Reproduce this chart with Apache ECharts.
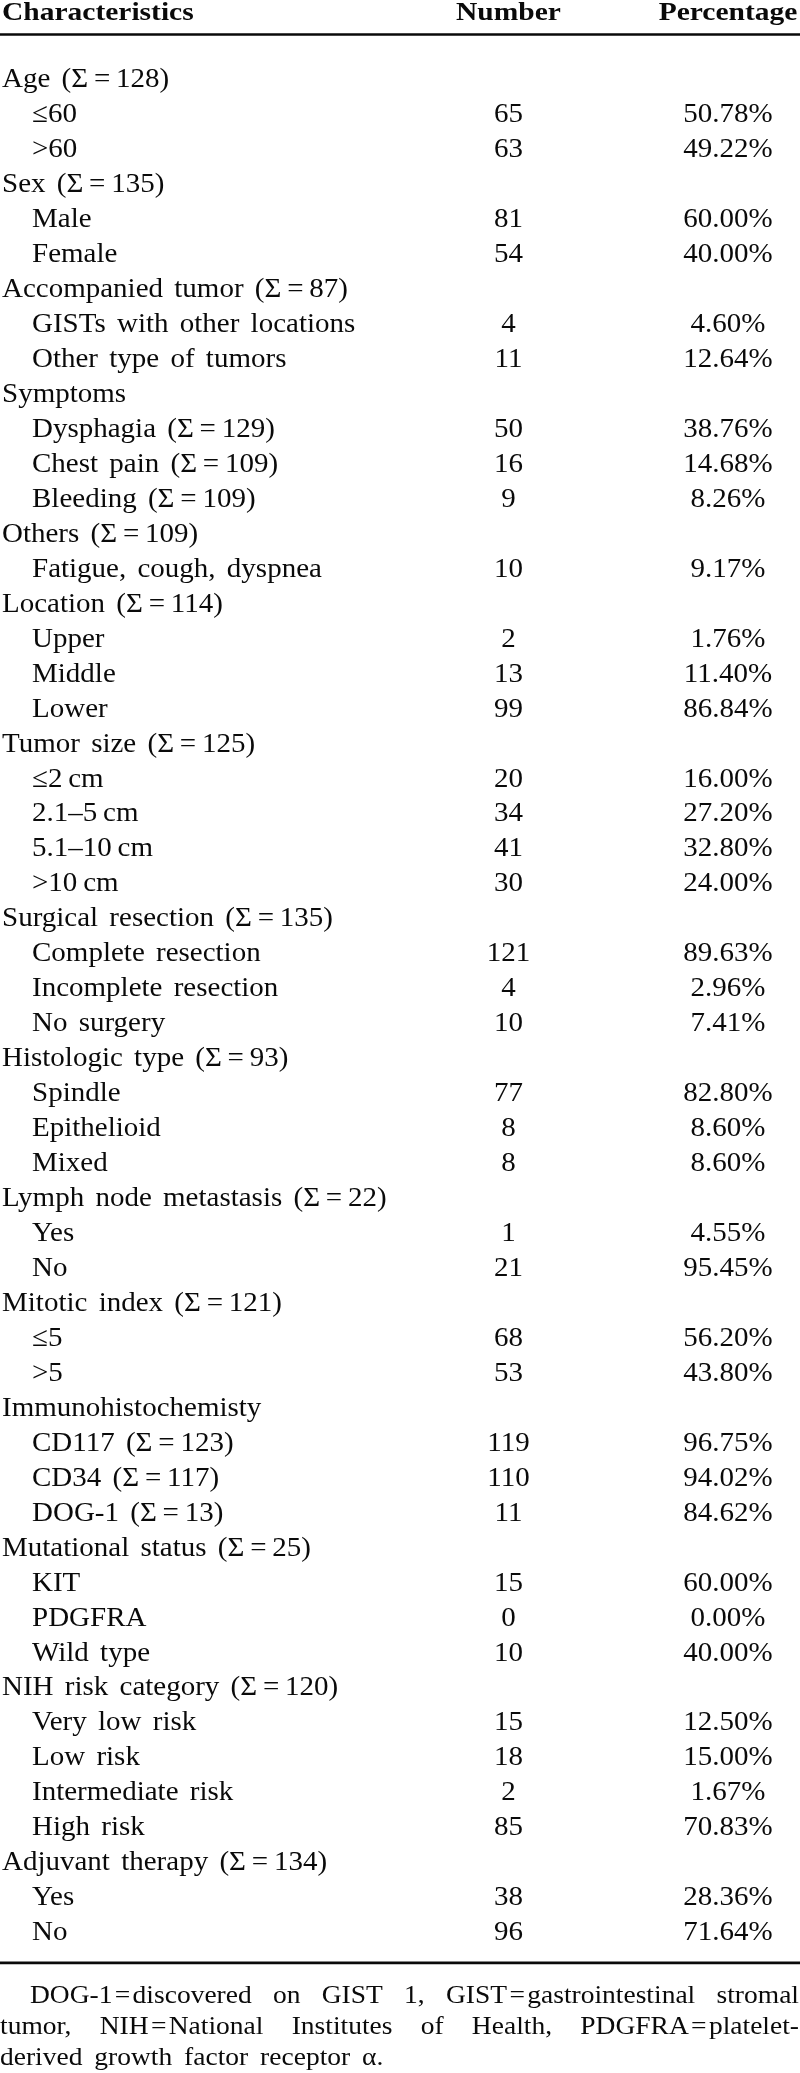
<!DOCTYPE html>
<html>
<head>
<meta charset="utf-8">
<script src="https://cdn.jsdelivr.net/npm/echarts@6/dist/echarts.min.js"></script>
<style>
html, body { margin: 0; padding: 0; background: #ffffff; }
#chart { width: 800px; height: 2073px; }
</style>
</head>
<body>
<div id="chart"></div>
<script>
// ---------------- DATA ----------------
const columnHeaders = ["Characteristics", "Number", "Percentage"];

const characteristics = [
  "Age (Σ\u2009=\u2009128)", "≤60", ">60",
  "Sex (Σ\u2009=\u2009135)", "Male", "Female",
  "Accompanied tumor (Σ\u2009=\u200987)", "GISTs with other locations", "Other type of tumors",
  "Symptoms", "Dysphagia (Σ\u2009=\u2009129)", "Chest pain (Σ\u2009=\u2009109)", "Bleeding (Σ\u2009=\u2009109)",
  "Others (Σ\u2009=\u2009109)", "Fatigue, cough, dyspnea",
  "Location (Σ\u2009=\u2009114)", "Upper", "Middle", "Lower",
  "Tumor size (Σ\u2009=\u2009125)", "≤2\u2009cm", "2.1–5\u2009cm", "5.1–10\u2009cm", ">10\u2009cm",
  "Surgical resection (Σ\u2009=\u2009135)", "Complete resection", "Incomplete resection", "No surgery",
  "Histologic type (Σ\u2009=\u200993)", "Spindle", "Epithelioid", "Mixed",
  "Lymph node metastasis (Σ\u2009=\u200922)", "Yes", "No",
  "Mitotic index (Σ\u2009=\u2009121)", "≤5", ">5",
  "Immunohistochemisty", "CD117 (Σ\u2009=\u2009123)", "CD34 (Σ\u2009=\u2009117)", "DOG-1 (Σ\u2009=\u200913)",
  "Mutational status (Σ\u2009=\u200925)", "KIT", "PDGFRA", "Wild type",
  "NIH risk category (Σ\u2009=\u2009120)", "Very low risk", "Low risk", "Intermediate risk", "High risk",
  "Adjuvant therapy (Σ\u2009=\u2009134)", "Yes", "No"
];

const numbers = [
  null, 65, 63,
  null, 81, 54,
  null, 4, 11,
  null, 50, 16, 9,
  null, 10,
  null, 2, 13, 99,
  null, 20, 34, 41, 30,
  null, 121, 4, 10,
  null, 77, 8, 8,
  null, 1, 21,
  null, 68, 53,
  null, 119, 110, 11,
  null, 15, 0, 10,
  null, 15, 18, 2, 85,
  null, 38, 96
];

const percentages = [
  null, 50.78, 49.22,
  null, 60.00, 40.00,
  null, 4.60, 12.64,
  null, 38.76, 14.68, 8.26,
  null, 9.17,
  null, 1.76, 11.40, 86.84,
  null, 16.00, 27.20, 32.80, 24.00,
  null, 89.63, 2.96, 7.41,
  null, 82.80, 8.60, 8.60,
  null, 4.55, 95.45,
  null, 56.20, 43.80,
  null, 96.75, 94.02, 84.62,
  null, 60.00, 0.00, 40.00,
  null, 12.50, 15.00, 1.67, 70.83,
  null, 28.36, 71.64
];

const footnoteLines = [
  ["DOG-1\u200A=\u200Adiscovered", "on", "GIST", "1,", "GIST\u200A=\u200Agastrointestinal", "stromal"],
  ["tumor,", "NIH\u200A=\u200ANational", "Institutes", "of", "Health,", "PDGFRA\u200A=\u200Aplatelet-"],
  ["derived", "growth", "factor", "receptor", "α."]
];

// ---------------- LAYOUT / STYLE ----------------
const W = 800, H = 2073;
const FAMILY = "'Liberation Serif', 'Times New Roman', 'DejaVu Serif', serif";
const INK = '#0a0a0a';
const FIRST_ROW_Y = 80, ROW_PITCH = 34.96;
const Y_MIN = -2, Y_MAX = 56;

const BODY = { size: 29, weight: 'normal', sy: 0.96, wordExtra: 4 };
const HEAD = { size: 29.5, weight: 'bold', sy: 0.85, wordExtra: 0 };
const NOTE = { size: 27.5, weight: 'normal', sy: 0.93, wordExtra: 5 };

const COL_GROUP_X = 2, COL_ITEM_X = 32, COL_NUM_X = 508.5, COL_PCT_X = 728;
const HEADER_ROW = -1.90, HEADER_RULE_ROW = -1.30, BOTTOM_RULE_ROW = 53.86;
const NOTE_FIRST_ROW = 54.82, NOTE_STEP = 0.887;
const NOTE_INDENT = 30, NOTE_RIGHT = 799;

const measureCtx = document.createElement('canvas').getContext('2d');
function measure(str, f) {
  measureCtx.font = `${f.weight} ${f.size}px ${FAMILY}`;
  return measureCtx.measureText(str).width;
}

function textEl(str, x, y, align, f) {
  return {
    type: 'text', x: x, y: y, scaleY: f.sy,
    style: {
      text: str, fill: INK,
      fontSize: f.size, fontFamily: FAMILY, fontWeight: f.weight,
      align: align, textAlign: align,
      verticalAlign: 'middle', textVerticalAlign: 'middle'
    }
  };
}

// left-aligned text with the reference's wider word spacing
function spacedText(str, x, y, f, out) {
  const words = str.split(' ');
  const gap = measure(' ', f) + f.wordExtra;
  let cx = x;
  words.forEach(w => {
    out.push(textEl(w, cx, y, 'left', f));
    cx += measure(w, f) + gap;
  });
}

function renderRow(params, api) {
  const i = params.dataIndex;
  const y = api.coord([0, api.value(1)])[1];
  const isGroup = numbers[i] == null;
  const px = v => api.coord([v, 0])[0];
  const children = [];
  spacedText(characteristics[i], px(isGroup ? COL_GROUP_X : COL_ITEM_X), y, BODY, children);
  if (!isGroup) {
    children.push(textEl(String(numbers[i]), px(COL_NUM_X), y, 'center', BODY));
    children.push(textEl(percentages[i].toFixed(2) + '%', px(COL_PCT_X), y, 'center', BODY));
  }
  return { type: 'group', children: children };
}

function renderFrame(params, api) {
  const py = r => api.coord([0, r])[1];
  const px = v => api.coord([v, 0])[0];
  const children = [];
  const hy = py(HEADER_ROW);
  children.push(textEl(columnHeaders[0], px(COL_GROUP_X), hy, 'left', HEAD));
  children.push(textEl(columnHeaders[1], px(COL_NUM_X), hy, 'center', HEAD));
  children.push(textEl(columnHeaders[2], px(COL_PCT_X), hy, 'center', HEAD));
  [[HEADER_RULE_ROW, 2.6], [BOTTOM_RULE_ROW, 2.8]].forEach(([r, t]) => {
    const y = py(r);
    children.push({ type: 'rect', shape: { x: px(0), y: y - t / 2, width: px(W) - px(0), height: t },
      style: { fill: INK } });
  });
  footnoteLines.forEach((words, li) => {
    const y = py(NOTE_FIRST_ROW + li * NOTE_STEP);
    const widths = words.map(w => measure(w, NOTE));
    const start = li === 0 ? NOTE_INDENT : 0;
    const last = li === footnoteLines.length - 1;
    const total = widths.reduce((a, b) => a + b, 0);
    const gap = last ? measure(' ', NOTE) + NOTE.wordExtra
                     : (NOTE_RIGHT - start - total) / (words.length - 1);
    let x = start;
    words.forEach((w, k) => {
      children.push(textEl(w, px(x), y, 'left', NOTE));
      x += widths[k] + gap;
    });
  });
  return { type: 'group', children: children };
}

const chart = echarts.init(document.getElementById('chart'), null, { renderer: 'canvas', width: W, height: H });
const gridTop = FIRST_ROW_Y + Y_MIN * ROW_PITCH;
const gridBottom = H - (FIRST_ROW_Y + Y_MAX * ROW_PITCH);

chart.setOption({
  animation: false,
  backgroundColor: '#ffffff',
  grid: { left: 0, right: 0, top: gridTop, bottom: gridBottom },
  xAxis: { type: 'value', min: 0, max: W, show: false },
  yAxis: { type: 'value', min: Y_MIN, max: Y_MAX, inverse: true, show: false },
  series: [
    {
      type: 'custom', name: 'rows', clip: false,
      encode: { x: 0, y: 1 },
      data: characteristics.map((c, i) => [0, i]),
      renderItem: renderRow
    },
    {
      type: 'custom', name: 'frame', clip: false,
      encode: { x: 0, y: 1 },
      data: [[0, 0]],
      renderItem: renderFrame
    }
  ]
});
</script>
</body>
</html>
